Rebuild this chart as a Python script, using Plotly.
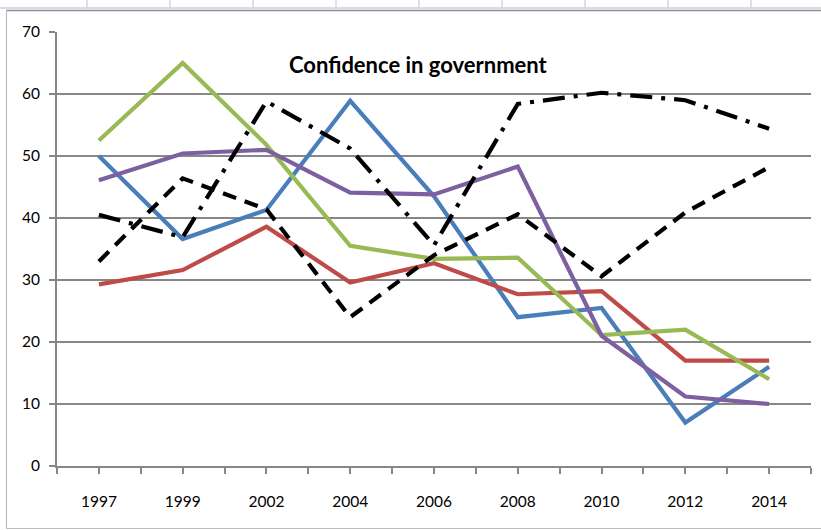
import plotly.graph_objects as go

# Survey years and confidence values (percent) for each group
years = ["1997", "1999", "2002", "2004", "2006", "2008", "2010", "2012", "2014"]

blue_series = [50.0, 36.6, 41.3, 58.9, 43.5, 24.0, 25.5, 7.0, 16.0]
red_series = [29.3, 31.6, 38.6, 29.6, 32.7, 27.7, 28.2, 17.0, 17.0]
green_series = [52.5, 65.0, 51.8, 35.5, 33.4, 33.6, 21.1, 22.0, 14.0]
purple_series = [46.1, 50.4, 51.0, 44.1, 43.8, 48.3, 21.0, 11.2, 10.0]
dashed_series = [33.0, 46.4, 41.4, 24.0, 34.0, 40.6, 30.6, 40.9, 48.2]
dashdot_series = [40.5, 36.9, 58.8, 51.2, 35.6, 58.4, 60.2, 59.0, 54.4]

y_ticks = [0, 10, 20, 30, 40, 50, 60, 70]

W, H = 821, 530
L, R, T, B = 57, 10, 32, 64
PW, PH = W - L - R, H - T - B


def px_x(px):
    return (px - L) / PW


def px_y(py):
    return (H - B - py) / PH


GRID = "#878787"
xs = list(range(len(years)))

fig = go.Figure()

series = [
    (blue_series, "#4A7EBB", "solid"),
    (red_series, "#BE4B48", "solid"),
    (green_series, "#98B954", "solid"),
    (purple_series, "#7D60A0", "solid"),
    (dashed_series, "#000000", "14px,9px"),
    (dashdot_series, "#000000", "22px,9px,4px,9px"),
]
for vals, color, dash in series:
    fig.add_trace(go.Scatter(
        x=xs, y=vals, mode="lines",
        line=dict(color=color, width=4.2, dash=dash),
        showlegend=False, hoverinfo="skip",
    ))

# category axis: labels at the years, tick marks at centres and boundaries
tickvals = [i / 2 - 0.5 for i in range(2 * len(years) + 1)]
ticktext = [years[int(v)] if float(v).is_integer() else "" for v in tickvals]

fig.update_xaxes(
    range=[-0.5, len(years) - 0.5],
    tickmode="array", tickvals=tickvals, ticktext=ticktext,
    ticks="outside", ticklen=6, tickwidth=2, tickcolor=GRID,
    showline=True, linecolor=GRID, linewidth=2,
    showgrid=False, zeroline=False,
    tickfont=dict(family="Lato", size=15.5, color="#000000"),
    ticklabelstandoff=14,
)
fig.update_yaxes(
    range=[0, 70], tickmode="array", tickvals=y_ticks,
    ticktext=[str(v) for v in y_ticks],
    ticks="outside", ticklen=6, tickwidth=2, tickcolor=GRID,
    showline=True, linecolor=GRID, linewidth=2,
    showgrid=True, gridcolor=GRID, gridwidth=2.2, zeroline=False,
    tickfont=dict(family="Lato", size=15.5, color="#000000"),
    ticklabelstandoff=6,
)

shapes = []
# spreadsheet cell strip above the chart
shapes.append(dict(type="rect", xref="paper", yref="paper",
                   x0=px_x(0), x1=px_x(W), y0=px_y(0), y1=px_y(9),
                   fillcolor="#FFFFFF", line=dict(width=0), layer="below"))
for k in range(10):
    cx = 87 + 83 * k
    shapes.append(dict(type="line", xref="paper", yref="paper",
                       x0=px_x(cx), x1=px_x(cx), y0=px_y(0), y1=px_y(8),
                       line=dict(color="#D0D7E5", width=1.5)))
shapes.append(dict(type="line", xref="paper", yref="paper",
                   x0=px_x(0), x1=px_x(W), y0=px_y(8), y1=px_y(8),
                   line=dict(color="#C8D2E2", width=1.5)))
# chart area frame
shapes.append(dict(type="line", xref="paper", yref="paper",
                   x0=px_x(6), x1=px_x(W), y0=px_y(10.5), y1=px_y(10.5),
                   line=dict(color="#8E8E8E", width=1.5)))
shapes.append(dict(type="line", xref="paper", yref="paper",
                   x0=px_x(6.5), x1=px_x(6.5), y0=px_y(10.5), y1=px_y(528.5),
                   line=dict(color="#BDBDBD", width=1.2)))
shapes.append(dict(type="line", xref="paper", yref="paper",
                   x0=px_x(6.5), x1=px_x(W), y0=px_y(528.5), y1=px_y(528.5),
                   line=dict(color="#BDBDBD", width=1.2)))

fig.update_layout(
    width=W, height=H,
    margin=dict(l=L, r=R, t=T, b=B, pad=0),
    paper_bgcolor="#FFFFFF", plot_bgcolor="#FFFFFF",
    shapes=shapes,
    annotations=[dict(
        text="<b>Confidence in government</b>",
        xref="paper", yref="paper", x=px_x(418), y=px_y(64),
        xanchor="center", yanchor="middle", showarrow=False,
        font=dict(family="Lato", size=22, color="#000000"),
    )],
)

fig.write_html("out.html")
